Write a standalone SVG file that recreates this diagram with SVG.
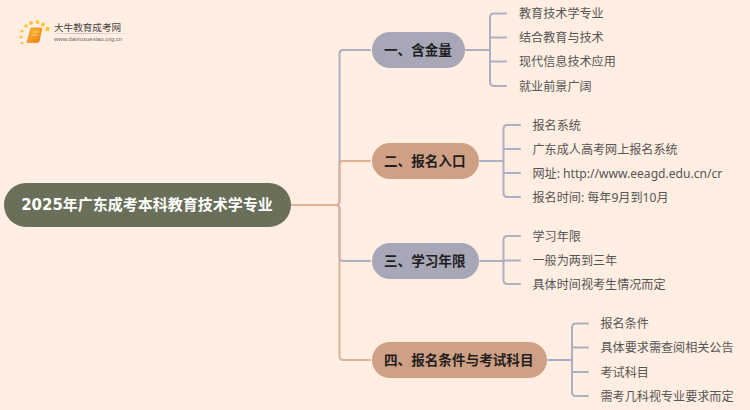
<svg xmlns="http://www.w3.org/2000/svg" width="750" height="410" viewBox="0 0 750 410">
<defs>
<linearGradient id="bk" x1="0" y1="0" x2="1" y2="1"><stop offset="0" stop-color="#fdc02f"/><stop offset="1" stop-color="#ee7c12"/></linearGradient>
<linearGradient id="ul" x1="0" y1="0" x2="1" y2="0"><stop offset="0" stop-color="#bbb" stop-opacity="0"/><stop offset="0.3" stop-color="#bbb"/><stop offset="1" stop-color="#bbb" stop-opacity="0"/></linearGradient>
</defs>
<style>
text{font-family:"Noto Sans","Noto Sans CJK SC",sans-serif}
.c{fill:none;stroke-width:2;stroke-linecap:round}
.l{stroke:#acaec3}
.o{stroke:#dfb199}
.leaf{font-size:12.100px;fill:#555;dominant-baseline:central}
.b{font-size:13.600px;font-weight:700;fill:#1f1f1f;dominant-baseline:central}
.s{fill:#fcc53a}
</style>
<rect width="750" height="410" fill="#ffeee1"/>
<g id="logo">
<circle class="s" cx="22" cy="43" r="1.3"/><circle class="s" cx="21" cy="37" r="1.5"/><circle class="s" cx="22" cy="31" r="1.6"/><circle class="s" cx="26" cy="26" r="1.8"/><circle class="s" cx="31" cy="23" r="2"/><circle class="s" cx="37.500" cy="22" r="2"/><circle class="s" cx="43" cy="24.500" r="2"/><circle class="s" cx="47.500" cy="29" r="2.300"/>
<path d="M31 28H42L39 41.500Q38.500 42.500 37 42.500H27Z" fill="url(#bk)" stroke="#e8780f" stroke-width="0.600"/>
<path d="M33 32H39M32 35H38" stroke="#ffe3a0" stroke-width="0.800" fill="none"/>
<text x="54" y="31" style="font-family:'Noto Sans CJK SC',sans-serif" font-size="9.600" fill="#444">大牛教育成考网</text>
<rect x="50" y="33" width="84" height="1" fill="url(#ul)"/>
<text x="54" y="41" style="font-family:'Liberation Sans',sans-serif" font-size="6" fill="#666">www.daniuxuexiao.org.cn</text>
</g>
<g id="connectors">
<path class="c l" d="M291 205H336Q339.500 205 339.500 201V54Q339.500 50 343 50H370"/>
<path class="c l" d="M291 205H336Q339.500 205 339.500 209V257Q339.500 261 343 261H370"/>
<path class="c o" d="M291 205H336Q339.500 205 339.500 201V165Q339.500 161 343 161H370"/>
<path class="c o" d="M291 205H336Q339.500 205 339.500 209V356Q339.500 360 343 360H370"/>
<path class="c l" d="M466 50H490M506 13.500H494Q490 13.500 490 17.500V82Q490 86 494 86H506M490 37.500H506M490 61.500H506"/>
<path class="c l" d="M480 161H503.500M520 125H507.500Q503.500 125 503.500 129V193Q503.500 197 507.500 197H520M503.500 149H520M503.500 173H520"/>
<path class="c l" d="M480 261H503.500M520 236H507.500Q503.500 236 503.500 240V280Q503.500 284 507.500 284H520M503.500 260.500H520"/>
<path class="c l" d="M548 360H572M588 323.500H576Q572 323.500 572 327.500V392Q572 396 576 396H588M572 347.500H588M572 372H588"/>
</g>
<g id="root"><rect x="4" y="183" width="287" height="44" rx="22" fill="#696f59"/><text x="147" y="204.500" text-anchor="middle" dominant-baseline="central" font-size="15" font-weight="700" fill="#fff" style="font-family:'DejaVu Sans','Noto Sans CJK SC',sans-serif">2025年广东成考本科教育技术学专业</text></g>
<g id="n1"><rect x="372" y="32" width="93" height="36" rx="18" fill="#a7a7b8"/><text class="b" x="384" y="49.500">一、含金量</text></g>
<g id="n2"><rect x="372" y="143" width="107" height="36" rx="18" fill="#d0a085"/><text class="b" x="384" y="160.500">二、报名入口</text></g>
<g id="n3"><rect x="372" y="243" width="107" height="36" rx="18" fill="#a7a7b8"/><text class="b" x="384" y="260.500">三、学习年限</text></g>
<g id="n4"><rect x="372" y="342" width="175" height="36" rx="18" fill="#d0a085"/><text class="b" x="384" y="359.500">四、报名条件与考试科目</text></g>
<g id="leaves1"><text class="leaf" x="519" y="13.500">教育技术学专业</text><text class="leaf" x="519" y="37.500">结合教育与技术</text><text class="leaf" x="519" y="61.500">现代信息技术应用</text><text class="leaf" x="519" y="86">就业前景广阔</text></g>
<g id="leaves2"><text class="leaf" x="532.500" y="125">报名系统</text><text class="leaf" x="532.500" y="149">广东成人高考网上报名系统</text><text class="leaf" x="532.500" y="173">网址: http://www.eeagd.edu.cn/cr</text><text class="leaf" x="532.500" y="197">报名时间: 每年9月到10月</text></g>
<g id="leaves3"><text class="leaf" x="532.500" y="236">学习年限</text><text class="leaf" x="532.500" y="260.500">一般为两到三年</text><text class="leaf" x="532.500" y="284.500">具体时间视考生情况而定</text></g>
<g id="leaves4"><text class="leaf" x="600.500" y="323.500">报名条件</text><text class="leaf" x="600.500" y="347.500">具体要求需查阅相关公告</text><text class="leaf" x="600.500" y="372">考试科目</text><text class="leaf" x="600.500" y="396.500">需考几科视专业要求而定</text></g>
</svg>
